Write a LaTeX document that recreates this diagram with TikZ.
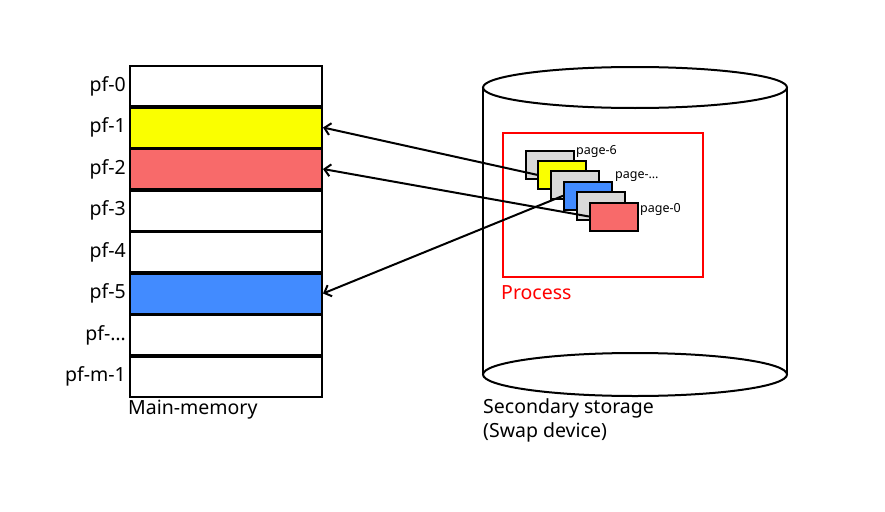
\documentclass[tikz,border=0pt]{standalone}
\usepackage{fontspec}
\setmainfont{Noto Sans}
\usetikzlibrary{arrows.meta}
\definecolor{pfyellow}{HTML}{FAFF00}
\definecolor{pfred}{HTML}{F86A6A}
\definecolor{pfblue}{HTML}{428BFF}
\definecolor{pfgray}{HTML}{D9D9D9}
\tikzset{
  frame/.style={draw, line width=2pt, minimum width=192pt, minimum height=40pt, inner sep=0pt},
  pagebox/.style={draw, line width=2pt, minimum width=48pt, minimum height=28pt, inner sep=0pt},
  pagelab/.style={anchor=west, inner sep=0pt, font=\fontsize{12.5}{14}\selectfont},
  arr/.style={-{Straight Barb[length=6pt,width=12pt]}, line width=2pt}
}
\begin{document}
\begin{tikzpicture}[x=1pt,y=-1pt,font=\fontsize{19.5}{24.5}\selectfont]
  \useasboundingbox (0,0) rectangle (885,511);
  % main memory
  \foreach \i/\lab/\col in {0/pf-0/white,1/pf-1/pfyellow,2/pf-2/pfred,3/pf-3/white,4/pf-4/white,5/pf-5/pfblue,6/{pf-\ldots}/white,7/pf-m-1/white} {
    \node[frame, fill=\col] (pf\i) at (226,{86+41.5*\i}) {};
    \node[anchor=east, inner sep=0pt] (lab\i) at ([xshift=-3pt]pf\i.west) {\lab};
  }
  \node[anchor=west, inner sep=0pt] (mmlab) at (128,410) {Main-memory};
  % secondary storage
  \draw[line width=2pt] (635,87.5) ellipse [x radius=152, y radius=20.5];
  \draw[line width=2pt] (483,87.5) -- (483,374.5) (787,87.5) -- (787,374.5);
  \draw[line width=2pt] (635,374.5) ellipse [x radius=152, y radius=21.5];
  \node[anchor=north west, inner sep=0pt, align=left] (stlab) at (483,398) {Secondary storage\\(Swap device)};
  % process
  \node[draw=red, line width=2pt, minimum width=200pt, minimum height=144pt, inner sep=0pt] (proc) at (603,205) {};
  \node[red, anchor=west, inner sep=0pt] (proclab) at (501,293) {Process};
  \foreach \j/\col in {0/pfgray,1/pfyellow,2/pfgray,3/pfblue,4/pfgray,5/pfred}
    \node[pagebox, fill=\col] (pg\j) at ({549.5+12.9*\j},{164.5+10.4*\j}) {};
  \node[pagelab] (pl6) at (576,151.5) {page-6};
  \node[pagelab] (pldots) at (615,177) {page-\ldots};
  \node[pagelab] (pl0) at (640,209) {page-0};
  % arrows
  \draw[arr] (pg1.west) -- (pf1.east);
  \draw[arr] (pg5.west) -- (pf2.east);
  \draw[arr] (pg3.west) -- (pf5.east);
\end{tikzpicture}
\end{document}
